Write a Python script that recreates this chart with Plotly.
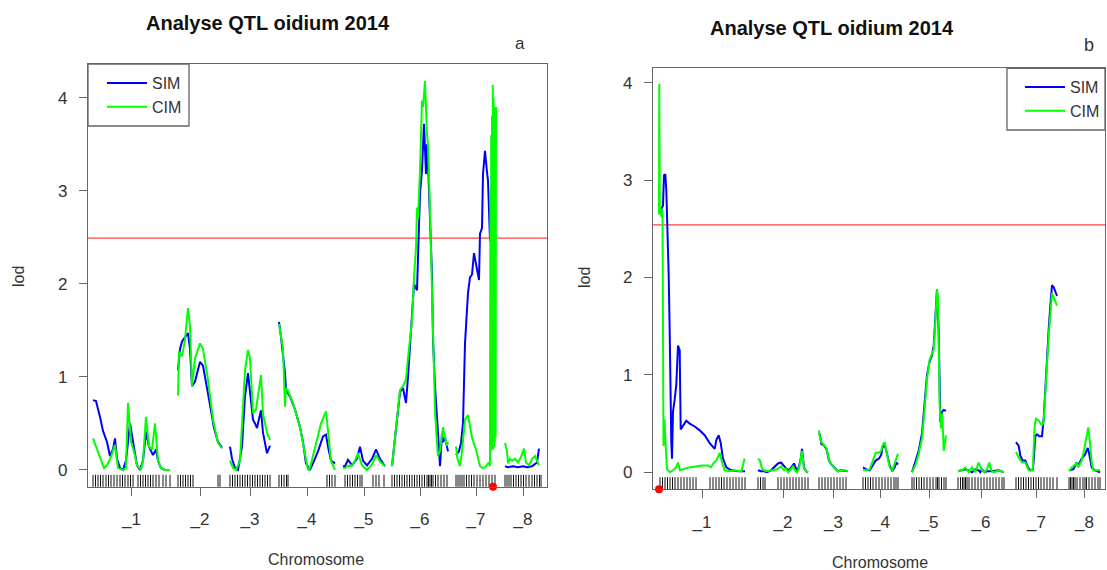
import plotly.graph_objects as go

chrom_labels = ["_1", "_2", "_3", "_4", "_5", "_6", "_7", "_8"]
title_text = "Analyse QTL oidium 2014"

# ---------------- Panel a ----------------
a_start = [0, 85, 137, 186, 250, 299, 363, 412]
a_len = [77, 44, 40, 56, 42, 56, 40, 36]
a_threshold = 2.49

a_sim_pos = [
    [0, 3, 7, 10, 14, 17, 20, 22, 24, 27, 30, 33, 37, 40, 44, 47, 50, 53, 56, 60, 63, 65, 68, 72, 77],
    [0, 2, 4, 7, 10, 12, 14, 17, 22, 25, 29, 32, 36, 40, 44],
    [0, 2, 5, 8, 12, 15, 18, 20, 23, 25, 27, 29, 31, 33, 37, 40],
    [0, 2, 6, 7, 11, 16, 21, 24, 27, 31, 34, 39, 44, 47, 49, 52, 56],
    [0, 2, 5, 9, 14, 17, 20, 24, 29, 33, 37, 42],
    [0, 5, 8, 11, 14, 16, 18, 20, 22, 25, 26, 28, 30, 31, 32, 34, 35, 36, 38, 40, 41, 43, 46, 48, 50, 51, 53, 55, 56],
    [0, 3, 5, 7, 9, 11, 12, 14, 16, 18, 20, 22, 23, 24, 26, 27, 29, 31, 32, 34, 35, 36.5, 38, 39, 40],
    [0, 3, 8, 13, 18, 22, 27, 32, 34],
]
a_sim_lod = [
    [0.75, 0.74, 0.57, 0.42, 0.30, 0.15, 0.22, 0.34, 0.12, 0.02, 0.0, 0.10, 0.50, 0.30, 0.05, 0.0, 0.10, 0.41, 0.25, 0.16, 0.22, 0.10, 0.02, 0.0, 0.0],
    [1.07, 1.30, 1.38, 1.42, 1.47, 1.30, 0.90, 0.95, 1.16, 1.12, 0.90, 0.70, 0.45, 0.30, 0.24],
    [0.25, 0.12, 0.02, 0.0, 0.25, 0.79, 1.04, 0.85, 0.54, 0.50, 0.45, 0.55, 0.64, 0.40, 0.18, 0.26],
    [1.59, 1.43, 1.04, 0.86, 0.79, 0.65, 0.46, 0.30, 0.07, 0.0, 0.07, 0.20, 0.36, 0.38, 0.25, 0.10, 0.07],
    [0.04, 0.04, 0.11, 0.05, 0.12, 0.25, 0.10, 0.05, 0.12, 0.22, 0.12, 0.04],
    [0.04, 0.50, 0.84, 0.88, 0.72, 1.00, 1.35, 1.60, 2.00, 1.93, 2.39, 2.97, 3.22, 3.50, 3.72, 3.18, 3.50, 3.30, 2.70, 2.10, 1.40, 0.90, 0.40, 0.04, 0.39, 0.30, 0.35, 0.24, 0.20],
    [0.16, 0.20, 0.29, 0.50, 1.36, 1.72, 1.90, 2.07, 2.10, 2.33, 2.20, 2.10, 2.04, 2.54, 2.60, 3.18, 3.43, 3.20, 3.11, 2.47, 2.45, 3.00, 3.60, 3.90, 3.72],
    [0.04, 0.03, 0.04, 0.03, 0.04, 0.03, 0.04, 0.08, 0.23],
]
a_cim_pos = [
    [0, 4, 8, 11, 14, 18, 22, 25, 30, 33, 35, 38, 41, 44, 48, 50, 53, 56, 59, 62, 65, 68, 72, 77],
    [0, 1, 4, 7, 10, 12, 14, 17, 22, 25, 30, 35, 40, 44],
    [0, 3, 6, 10, 15, 18, 20, 23, 26, 28, 31, 33, 37, 40],
    [0, 4, 6, 7, 9, 14, 21, 26, 29, 31, 37, 42, 47, 50, 52, 56],
    [0, 2, 5, 9, 12, 15, 19, 24, 29, 33, 37, 42],
    [0, 5, 8, 11, 14, 16, 18, 20, 22, 24, 25, 26, 28, 30, 31, 33, 35, 36, 38, 40, 41, 43, 45, 46, 48, 50, 51, 53, 55, 56],
    [0, 1.5, 4, 6, 9, 12, 16, 20, 24, 27, 30, 33, 34, 34.4, 34.8, 35.2, 35.6, 36, 36.4, 36.8, 37.2, 37.6, 38, 38.4, 38.8, 39.2, 39.6, 40],
    [0, 2, 3, 5, 7, 10, 13, 16, 19, 21, 24, 27, 30, 32, 34],
]
a_cim_lod = [
    [0.34, 0.22, 0.10, 0.02, 0.05, 0.14, 0.27, 0.02, 0.0, 0.02, 0.72, 0.30, 0.20, 0.05, 0.0, 0.10, 0.57, 0.25, 0.22, 0.50, 0.10, 0.02, 0.0, 0.0],
    [0.80, 1.27, 1.22, 1.40, 1.74, 1.55, 0.90, 1.20, 1.36, 1.30, 0.97, 0.54, 0.29, 0.23],
    [0.10, 0.02, 0.0, 0.10, 1.07, 1.29, 1.20, 0.61, 0.65, 0.80, 1.02, 0.60, 0.40, 0.32],
    [1.57, 1.30, 0.68, 0.88, 0.85, 0.72, 0.46, 0.17, 0.0, 0.02, 0.30, 0.50, 0.63, 0.30, 0.10, 0.0],
    [0.02, 0.02, 0.04, 0.05, 0.10, 0.18, 0.05, 0.0, 0.06, 0.16, 0.09, 0.04],
    [0.04, 0.54, 0.86, 0.90, 0.97, 1.20, 1.39, 1.61, 2.07, 2.39, 2.82, 2.70, 3.22, 3.97, 3.90, 4.18, 3.60, 3.50, 2.79, 1.90, 1.47, 0.64, 0.29, 0.15, 0.20, 0.39, 0.46, 0.35, 0.26, 0.30],
    [0.25, 0.12, 0.04, 0.20, 0.54, 0.59, 0.35, 0.22, 0.04, 0.02, 0.04, 0.08, 0.04, 3.0, 0.20, 3.6, 0.22, 3.8, 0.25, 4.14, 0.22, 4.0, 0.25, 3.9, 0.30, 3.7, 0.35, 3.9],
    [0.29, 0.20, 0.07, 0.12, 0.10, 0.12, 0.08, 0.14, 0.23, 0.08, 0.05, 0.12, 0.15, 0.10, 0.05],
]
a_markers = [
    [0, 2.5, 5, 7.5, 10, 13, 15.5, 18, 21, 24, 27, 29.5, 32, 35, 37.5, 40, 45, 47.5, 50, 52.5, 55, 57.5, 60, 63, 66, 70, 73, 77],
    [0, 2.5, 5, 7.5, 10, 12.5, 15, 40, 42],
    [0, 2.5, 5, 7.5, 10, 12.5, 15, 17.5, 20, 22.5, 25, 27.5, 30, 32.5, 35, 37.5, 40],
    [0, 2.5, 5, 7.5, 9, 48, 50.5, 53, 56],
    [2, 4.5, 7, 9.5, 12, 14.5, 17, 19, 30, 33, 36, 41],
    [0, 2.5, 5, 7.5, 10, 12.5, 15, 17.5, 20, 22.5, 25, 27.5, 30, 32.5, 35, 36.5, 38, 39.5, 41, 43.5, 46, 49, 52, 55],
    [0, 2, 4, 6, 8, 10.5, 13, 15.5, 18, 21, 24, 27, 30, 33, 36, 39],
    [0, 2, 4, 6, 8.5, 11, 13.5, 16, 18.5, 21, 24, 27, 29.5, 32, 34.5, 36],
]
a_peak_chrom, a_peak_pos = 6, 37

# ---------------- Panel b ----------------
b_start = [0, 99, 160, 204, 253, 299, 357, 410]
b_len = [86, 50, 29, 35, 34, 46, 41, 31]
b_threshold = 2.54

b_sim_pos = [
    [0, 2, 4, 5, 6.3, 7.3, 8, 9, 9.7, 10.7, 11.3, 12.3, 13, 14, 15.7, 17.3, 19, 20.7, 21.7, 24, 27.3, 30.7, 35.7, 40.7, 45.7, 50.7, 55.7, 57.3, 59.7, 61.7, 64, 67.3, 72.3, 79, 86],
    [0, 3, 6, 9, 13, 16, 20, 23, 26, 28, 31, 34, 36, 38, 40, 43, 44, 46, 48, 50],
    [0, 1, 2.4, 4.7, 7.4, 10, 12.4, 15.7, 19, 22, 26, 29],
    [0, 3.3, 6.7, 9.3, 12.7, 16, 18.3, 19.3, 21.7, 23.3, 25, 26.7, 29.3, 31.7, 33.3, 35],
    [0, 3.3, 6.7, 10, 12.3, 15, 17.7, 20, 21.7, 23.3, 25, 26.7, 28.3, 30, 31.7, 34],
    [0, 4, 7.3, 10.7, 14, 17.3, 20.7, 22.3, 24, 26.7, 29, 33.3, 40.7, 45.7],
    [0, 2.7, 4.3, 6.7, 9.3, 12, 14.3, 16.7, 17.7, 19.3, 21, 23.3, 26, 27.7, 29.3, 31, 32.7, 34.3, 36, 37.7, 39.3, 41],
    [0, 4.3, 7.7, 9.3, 12.7, 16, 18.7, 20, 22.7, 26, 31],
]
b_sim_lod = [
    [2.65, 2.70, 2.74, 3.05, 3.06, 2.90, 2.70, 2.36, 2.02, 1.44, 0.82, 0.31, 0.14, 0.62, 0.75, 0.90, 1.30, 1.25, 0.44, 0.48, 0.53, 0.50, 0.47, 0.43, 0.38, 0.30, 0.24, 0.33, 0.38, 0.30, 0.14, 0.05, 0.02, 0.01, 0.01],
    [0.02, 0.01, 0.01, 0.0, 0.02, 0.05, 0.09, 0.10, 0.06, 0.04, 0.02, 0.07, 0.09, 0.04, 0.02, 0.15, 0.24, 0.05, 0.01, 0.0],
    [0.40, 0.38, 0.29, 0.28, 0.24, 0.12, 0.08, 0.04, 0.01, 0.02, 0.01, 0.01],
    [0.05, 0.03, 0.02, 0.07, 0.12, 0.14, 0.18, 0.25, 0.28, 0.22, 0.13, 0.07, 0.01, 0.05, 0.10, 0.08],
    [0.0, 0.12, 0.22, 0.40, 0.70, 1.00, 1.14, 1.20, 1.30, 1.56, 1.88, 1.44, 0.52, 0.62, 0.64, 0.63],
    [0.01, 0.02, 0.03, 0.02, 0.0, 0.03, 0.02, 0.0, 0.03, 0.0, 0.01, 0.01, 0.02, 0.0],
    [0.31, 0.27, 0.17, 0.12, 0.12, 0.05, 0.02, 0.02, 0.12, 0.37, 0.39, 0.37, 0.37, 0.55, 0.85, 1.20, 1.47, 1.71, 1.92, 1.90, 1.86, 1.81],
    [0.02, 0.03, 0.10, 0.07, 0.14, 0.18, 0.25, 0.20, 0.05, 0.02, 0.0],
]
b_cim_pos = [
    [0, 0.3, 0.8, 1.5, 2.5, 3.5, 4.5, 5.5, 6.7, 8, 11, 14, 17, 19, 21, 24, 30, 37, 43, 49, 52, 55, 57.3, 60.7, 63, 65.7, 70.7, 75.7, 82.3, 85.7],
    [0, 2, 4, 6, 9, 13, 16, 19, 23, 26, 28, 30, 32, 35, 37, 39, 41, 43, 44, 46, 48, 50],
    [0, 1, 2.4, 4.7, 7.4, 10, 12.4, 15.7, 19, 22, 26, 29],
    [0, 3.3, 6.7, 9.3, 12.7, 16, 18.3, 19.3, 21.7, 23.3, 25, 26.7, 29.3, 31.7, 33.3, 35],
    [0, 3.3, 6.7, 10, 12.3, 15, 17.7, 20, 21.7, 23.3, 25, 26, 27.7, 29, 30.3, 31.7, 34],
    [0, 4, 7.3, 10.7, 14, 17.3, 20.7, 22.3, 24, 26.7, 29, 31.3, 33.3, 35.7, 40.7, 45.7],
    [0, 2.7, 6, 9.3, 12.7, 16.7, 18.7, 20, 22.7, 26, 27.7, 29.3, 32.7, 36, 37.7, 41],
    [0, 2.7, 5.3, 7.7, 9.3, 12.7, 15.3, 17.7, 19.3, 21, 22.7, 24.3, 27.7, 31],
]
b_cim_lod = [
    [2.65, 3.99, 2.65, 2.72, 2.62, 2.70, 0.27, 0.54, 0.27, 0.03, 0.0, 0.02, 0.05, 0.10, 0.02, 0.03, 0.05, 0.06, 0.07, 0.07, 0.05, 0.10, 0.12, 0.20, 0.10, 0.02, 0.01, 0.02, 0.01, 0.14],
    [0.14, 0.12, 0.04, 0.02, 0.01, 0.02, 0.02, 0.03, 0.06, 0.02, 0.04, 0.0, 0.02, 0.06, 0.02, 0.0, 0.04, 0.15, 0.22, 0.04, 0.01, 0.0],
    [0.43, 0.35, 0.31, 0.28, 0.25, 0.13, 0.08, 0.04, 0.01, 0.02, 0.02, 0.01],
    [0.02, 0.02, 0.03, 0.10, 0.20, 0.20, 0.22, 0.27, 0.31, 0.22, 0.12, 0.05, 0.02, 0.08, 0.14, 0.19],
    [0.0, 0.07, 0.19, 0.35, 0.61, 0.96, 1.16, 1.21, 1.26, 1.54, 1.88, 1.78, 0.68, 0.45, 0.60, 0.22, 0.38],
    [0.01, 0.02, 0.05, 0.0, 0.05, 0.0, 0.10, 0.05, 0.02, 0.0, 0.03, 0.10, 0.02, 0.0, 0.02, 0.0],
    [0.21, 0.15, 0.10, 0.10, 0.02, 0.02, 0.48, 0.55, 0.53, 0.48, 0.52, 0.85, 1.40, 1.84, 1.80, 1.71],
    [0.01, 0.05, 0.07, 0.10, 0.05, 0.12, 0.24, 0.38, 0.46, 0.30, 0.10, 0.02, 0.02, 0.02],
]
b_markers = [
    [1, 3.5, 6, 8.5, 11, 13.5, 16, 19, 22, 25, 28, 31, 34, 37, 51, 54, 57, 60, 62.5, 65, 68, 71, 74, 77, 80, 83, 86],
    [0, 2.5, 5, 7, 20, 23, 26, 29, 32, 35, 38, 41, 44, 47, 50],
    [0, 3, 6, 9, 12, 15, 18, 21, 24, 27],
    [0, 2.5, 5, 7.5, 10, 13, 16, 19, 22, 25, 28, 31, 33, 35],
    [0, 2, 4.5, 7, 9.5, 12, 15, 18, 21, 24, 25.5, 27, 29.5, 32, 34],
    [0, 2.5, 4.5, 6, 7.5, 9, 11, 14, 17, 20, 23, 26, 29, 32, 35, 38, 41, 44, 46],
    [0, 2.5, 5, 7.5, 10, 12.5, 15, 17.5, 20, 22.5, 25, 28, 31, 34, 37, 41],
    [0, 1.5, 3, 4.5, 6, 8, 11, 14, 16, 17.5, 20, 23, 26, 29, 31],
]
b_peak_chrom, b_peak_pos = 0, 0


# ---------------- helpers ----------------
def concat(starts, pos_lists, val_lists):
    xs, ys = [], []
    for s, ps, vs in zip(starts, pos_lists, val_lists):
        xs.extend([s + p for p in ps])
        ys.extend(vs)
        xs.append(None)
        ys.append(None)
    return xs, ys


def rug(starts, marker_lists):
    xs = []
    for s, ms in zip(starts, marker_lists):
        xs.extend([s + m for m in ms])
    return xs


FONT = "Liberation Sans, Arial, sans-serif"
TXT = "#333333"
FRAME = "#666666"
BLUE = "#0000ff"
GREEN = "#00ff00"

fig = go.Figure()

panels = [
    dict(xa="x", ya="y", legend="legend", start=a_start, length=a_len,
         sp=a_sim_pos, sl=a_sim_lod, cp=a_cim_pos, cl=a_cim_lod,
         markers=a_markers, thr=a_threshold, peak=(a_peak_chrom, a_peak_pos),
         rng=[-5, 454], yr=[-0.18, 4.362], rug_y=-0.12, dom_x=[88 / 1107, 547 / 1107],
         dom_y=[1 - 486.7 / 570, 1 - 64 / 570]),
    dict(xa="x2", ya="y2", legend="legend2", start=b_start, length=b_len,
         sp=b_sim_pos, sl=b_sim_lod, cp=b_cim_pos, cl=b_cim_lod,
         markers=b_markers, thr=b_threshold, peak=(b_peak_chrom, b_peak_pos),
         rng=[-6, 446], yr=[-0.175, 4.148], rug_y=-0.115, dom_x=[653 / 1107, 1105 / 1107],
         dom_y=[1 - 489.3 / 570, 1 - 68.3 / 570]),
]

for i, p in enumerate(panels):
    rx = rug(p["start"], p["markers"])
    fig.add_trace(go.Scatter(
        x=rx, y=[p["rug_y"]] * len(rx), xaxis=p["xa"], yaxis=p["ya"], mode="markers",
        marker=dict(symbol="line-ns", size=9, line=dict(color="#111111", width=1)),
        showlegend=False, hoverinfo="skip"))
    fig.add_trace(go.Scatter(
        x=[p["rng"][0], p["rng"][1]], y=[p["thr"], p["thr"]], xaxis=p["xa"], yaxis=p["ya"],
        mode="lines", line=dict(color="#ff4040", width=1.2), showlegend=False, hoverinfo="skip"))
    sx, sy = concat(p["start"], p["sp"], p["sl"])
    fig.add_trace(go.Scatter(
        x=sx, y=sy, xaxis=p["xa"], yaxis=p["ya"], mode="lines", name="SIM",
        line=dict(color=BLUE, width=2), legend=p["legend"], connectgaps=False))
    cx, cy = concat(p["start"], p["cp"], p["cl"])
    fig.add_trace(go.Scatter(
        x=cx, y=cy, xaxis=p["xa"], yaxis=p["ya"], mode="lines", name="CIM",
        line=dict(color=GREEN, width=2), legend=p["legend"], connectgaps=False))
    pc, pp = p["peak"]
    fig.add_trace(go.Scatter(
        x=[p["start"][pc] + pp], y=[p["yr"][0]], xaxis=p["xa"], yaxis=p["ya"],
        mode="markers", marker=dict(color="#ff0000", size=8), cliponaxis=False,
        showlegend=False, hoverinfo="skip"))

axis_common = dict(showline=True, mirror=True, linecolor=FRAME, linewidth=1.3,
                   ticks="outside", ticklen=8, tickcolor=FRAME, showgrid=False, zeroline=False,
                   tickfont=dict(family=FONT, size=17, color=TXT))

for i, p in enumerate(panels):
    tickvals = [s + L / 2 for s, L in zip(p["start"], p["length"])]
    xkey = "xaxis" if i == 0 else "xaxis2"
    ykey = "yaxis" if i == 0 else "yaxis2"
    fig.update_layout(**{
        xkey: dict(axis_common, domain=p["dom_x"], range=p["rng"], tickvals=tickvals,
                   ticktext=chrom_labels, anchor=p["ya"], ticklabelstandoff=9),
        ykey: dict(axis_common, domain=p["dom_y"], range=p["yr"], tickvals=[0, 1, 2, 3, 4],
                   anchor=p["xa"], ticklabelstandoff=8),
    })

# legend boxes (frames) + legends inside
legend_common = dict(bgcolor="rgba(0,0,0,0)", borderwidth=0,
                     font=dict(family=FONT, size=16, color=TXT), xanchor="left", yanchor="top",
                     itemwidth=40, tracegroupgap=0)
fig.update_layout(
    legend=dict(legend_common, x=102 / 1107, y=1 - 66 / 570),
    legend2=dict(legend_common, x=1020 / 1107, y=1 - 70 / 570),
)
for (x0, x1, y0, y1) in [(88, 189, 64, 126), (1007, 1105, 68.3, 130)]:
    fig.add_shape(type="rect", xref="paper", yref="paper", x0=x0 / 1107, x1=x1 / 1107,
                  y0=1 - y1 / 570, y1=1 - y0 / 570, line=dict(color=FRAME, width=1.3),
                  fillcolor="white", layer="below")

annotations = [
    dict(text="<b>" + title_text + "</b>", x=268 / 1107, y=1 - 23 / 570, size=20),
    dict(text="<b>" + title_text + "</b>", x=832 / 1107, y=1 - 28 / 570, size=20),
    dict(text="a", x=520 / 1107, y=1 - 43 / 570, size=17),
    dict(text="b", x=1089 / 1107, y=1 - 45 / 570, size=18),
    dict(text="Chromosome", x=316 / 1107, y=1 - 559 / 570, size=16),
    dict(text="Chromosome", x=880 / 1107, y=1 - 562 / 570, size=16),
]
for a in annotations:
    fig.add_annotation(text=a["text"], x=a["x"], y=a["y"], xref="paper", yref="paper",
                       xanchor="center", yanchor="middle", showarrow=False,
                       font=dict(family=FONT, size=a["size"], color="#111111" if "<b>" in a["text"] else TXT))
for x in (18, 584):
    fig.add_annotation(text="lod", x=x / 1107, y=1 - 277 / 570, xref="paper", yref="paper",
                       xanchor="center", yanchor="middle", showarrow=False, textangle=-90,
                       font=dict(family=FONT, size=16, color=TXT))

fig.update_layout(width=1107, height=570, margin=dict(l=0, r=0, t=0, b=0),
                  paper_bgcolor="white", plot_bgcolor="white", showlegend=True)

fig.write_html("out.html")
